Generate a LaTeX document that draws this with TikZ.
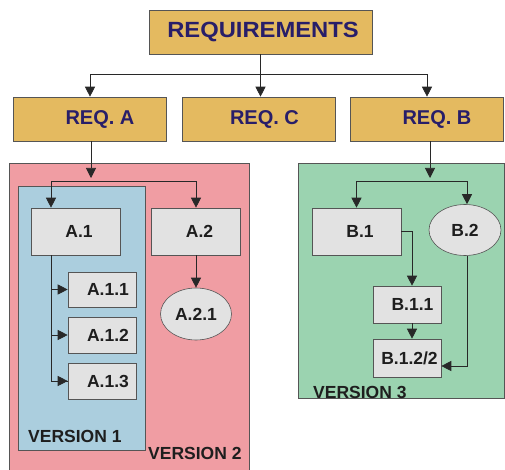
\documentclass[tikz,border=0pt]{standalone}
\usepackage{fontspec}
\setmainfont{Liberation Sans}
\usetikzlibrary{positioning,arrows.meta,shapes.geometric,backgrounds}

\begin{document}
\begin{tikzpicture}[x=1pt,y=1pt,
  reqbox/.style={draw=lineColor,fill=reqColor,line width=0.6pt,minimum width=153pt,minimum height=44pt,inner sep=0pt,text=reqText,font=\bfseries\fontsize{20}{21}\selectfont},
  itembox/.style={draw=lineColor,fill=itemColor,line width=0.6pt,inner sep=0pt,text=textColor,font=\bfseries\fontsize{17.5}{18}\selectfont},
  itemoval/.style={itembox,ellipse},
  verlabel/.style={inner sep=0pt,text=textColor,font=\bfseries\fontsize{17.5}{18}\selectfont},
  arr/.style={draw=arrColor,line width=0.7pt,-{Triangle[length=10pt,width=10pt]}},
  ln/.style={draw=arrColor,line width=0.7pt}]
\definecolor{reqColor}{RGB}{228,186,96}
\definecolor{reqText}{RGB}{40,30,105}
\definecolor{itemColor}{RGB}{226,226,226}
\definecolor{lineColor}{RGB}{85,85,85}
\definecolor{arrColor}{RGB}{40,40,40}
\definecolor{textColor}{RGB}{30,30,30}
\definecolor{v2Color}{RGB}{240,157,163}
\definecolor{v1Color}{RGB}{171,206,222}
\definecolor{v3Color}{RGB}{155,211,176}
\path[use as bounding box,fill=white] (0,0) rectangle (505,469);

% version areas
\path[draw=lineColor,fill=v2Color,line width=0.6pt] (9,-2) rectangle (249,306);
\path[draw=lineColor,fill=v1Color,line width=0.6pt] (18,19) rectangle (145,283);
\path[draw=lineColor,fill=v3Color,line width=0.6pt] (298,71) rectangle (504.5,306);

% requirements
\node[reqbox,minimum width=223pt] (req) at (260.5,437) {\fontsize{22}{23}\selectfont\hspace*{5pt}\scalebox{1.08}[1]{REQUIREMENTS}};
\node[reqbox] (reqA) at (90,350) {\hspace*{20pt}REQ. A};
\node[reqbox] (reqC) at (258.5,350) {\hspace*{12pt}REQ. C};
\node[reqbox] (reqB) at (427,350) {\hspace*{20pt}REQ. B};

% items
\node[itembox,minimum width=89pt,minimum height=47pt] (a1) at (75.5,237.5) {\hspace*{7pt}A.1};
\node[itembox,minimum width=89pt,minimum height=47pt] (a2) at (196,237.5) {\hspace*{7pt}A.2};
\node[itembox,minimum width=68pt,minimum height=35pt] (a11) at (102,179.5) {\hspace*{12pt}A.1.1};
\node[itembox,minimum width=68pt,minimum height=36pt] (a12) at (102,134) {\hspace*{12pt}A.1.2};
\node[itembox,minimum width=68pt,minimum height=36pt] (a13) at (102,88) {\hspace*{12pt}A.1.3};
\node[itemoval,minimum width=71pt,minimum height=52pt] (a21) at (196,155) {A.2.1};
\node[itembox,minimum width=89pt,minimum height=47pt] (b1) at (356.5,237.5) {\hspace*{7pt}B.1};
\node[itemoval,minimum width=72pt,minimum height=51pt] (b2) at (465,239) {B.2};
\node[itembox,minimum width=68pt,minimum height=37pt] (b11) at (407,164.5) {\hspace*{11pt}B.1.1};
\node[itembox,minimum width=68pt,minimum height=38pt] (b122) at (407,111) {\hspace*{5pt}B.1.2/2};

% version labels
\node[verlabel,anchor=west] (ver1) at (28,33) {VERSION 1};
\node[verlabel,anchor=west] (ver2) at (148,16) {VERSION 2};
\node[verlabel,anchor=west] (ver3) at (313,77) {VERSION 3};

% connectors
\coordinate (jR) at (260,395);
\coordinate (jA) at (91,288);
\coordinate (jB) at (430,288);
\coordinate (spine) at ([xshift=-24.5pt]a1.south);
\draw[arr] (req.south) -- (req.south |- reqC.north);
\draw[arr] (jR) -| (reqA.north);
\draw[arr] (jR) -| (reqB.north);
\draw[arr] ([xshift=1pt]reqA.south) -- ([yshift=3pt]jA);
\draw[arr] (jA) -| (spine |- a1.north);
\draw[arr] (jA) -| (a2.north);
\draw[ln] (spine) |- (a13.west);
\draw[arr] (spine |- a11.west) -- (a11.west);
\draw[arr] (spine |- a12.west) -- (a12.west);
\draw[arr] (spine |- a13.west) -- (a13.west);
\draw[arr] (a2.south) -- (a21.north);
\draw[arr] ([xshift=3pt]reqB.south) -- ([yshift=3pt]jB);
\draw[arr] (jB) -| (b1.north);
\draw[arr] (jB) -| ([xshift=2pt]b2.north);
\draw[arr] (b1.east) -| ([xshift=5pt]b11.north);
\draw[arr] ([xshift=5pt]b11.south) -- ([xshift=5pt]b122.north);
\draw[arr] ([xshift=2pt]b2.south) |- ([yshift=-8pt]b122.east);
\end{tikzpicture}
\end{document}
